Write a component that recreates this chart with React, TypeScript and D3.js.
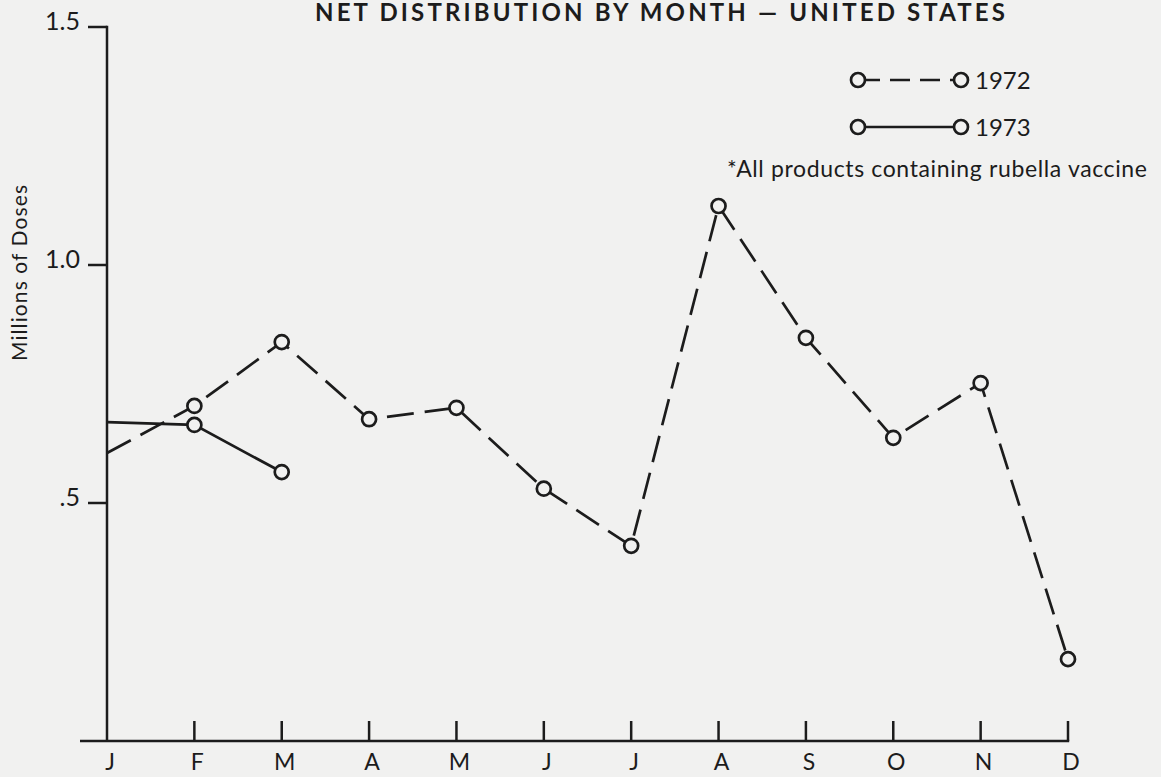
import React from "react";
import * as d3 from "d3";

const months = ["J", "F", "M", "A", "M", "J", "J", "A", "S", "O", "N", "D"];
const values1972 = [0.605, 0.704, 0.838, 0.676, 0.7, 0.53, 0.41, 1.124, 0.847, 0.637, 0.752, 0.172];
const values1973 = [0.67, 0.664, 0.565];
const yTicks = [0.5, 1.0, 1.5];
const yTickLabels = [".5", "1.0", "1.5"];
const title = "NET DISTRIBUTION BY MONTH — UNITED STATES";
const yLabel = "Millions of Doses";
const legendLabels = ["1972", "1973"];
const footnote = "*All products containing rubella vaccine";

const W = 1161;
const H = 777;
const FONT = "Lato, 'Open Sans', sans-serif";
const INK = "#1c1c1c";
const BG = "#f1f1f0";

export default function App() {
  const x = d3.scaleLinear().domain([0, 11]).range([107, 1068]);
  const y = d3.scaleLinear().domain([0, 1.5]).range([741, 27]);
  const line = d3
    .line<number>()
    .x((_, i) => x(i))
    .y((d) => y(d));

  const r = 7;
  const sw = 2.7;

  return (
    <div style={{ position: "fixed", left: 0, top: 0, width: W, height: H, background: BG }}>
      <svg width={W} height={H} style={{ display: "block" }}>
        <rect width={W} height={H} fill={BG} />
        <text
          x={315}
          y={21}
          fontFamily={FONT}
          fontSize={24}
          fontWeight="bold"
          fill={INK}
          textLength={690}
          lengthAdjust="spacing"
        >
          {title}
        </text>
        {/* y axis */}
        <line x1={107} x2={107} y1={y(1.5) - 1.2} y2={741} stroke={INK} strokeWidth={2.5} />
        {yTicks.map((t, i) => (
          <g key={"yt" + i}>
            <line x1={88} x2={107} y1={y(t)} y2={y(t)} stroke={INK} strokeWidth={2.5} />
            <text x={80} y={y(t) + 3} textAnchor="end" fontFamily={FONT} fontSize={25} fill={INK}>
              {yTickLabels[i]}
            </text>
          </g>
        ))}
        <text
          transform={`translate(27,273) rotate(-90)`}
          textAnchor="middle"
          fontFamily={FONT}
          fontSize={21}
          fill={INK}
          textLength={176}
          lengthAdjust="spacing"
        >
          {yLabel}
        </text>
        {/* x axis */}
        <line x1={80} x2={x(11) + 1.2} y1={741} y2={741} stroke={INK} strokeWidth={2.5} />
        {months.map((m, i) => (
          <g key={"xt" + i}>
            {i > 0 && <line x1={x(i)} x2={x(i)} y1={721} y2={741} stroke={INK} strokeWidth={2.5} />}
            <text x={x(i) + 3} y={770} textAnchor="middle" fontFamily={FONT} fontSize={23} fill={INK}>
              {m}
            </text>
          </g>
        ))}
        {/* series */}
        <path d={line(values1972) || ""} fill="none" stroke={INK} strokeWidth={sw} strokeDasharray="27 11" />
        <path d={line(values1973) || ""} fill="none" stroke={INK} strokeWidth={sw} />
        {values1972.map((v, i) =>
          i === 0 ? null : (
            <circle key={"c72" + i} cx={x(i)} cy={y(v)} r={r} fill={BG} stroke={INK} strokeWidth={sw} />
          )
        )}
        {values1973.map((v, i) =>
          i === 0 ? null : (
            <circle key={"c73" + i} cx={x(i)} cy={y(v)} r={r} fill={BG} stroke={INK} strokeWidth={sw} />
          )
        )}
        {/* legend */}
        <line x1={858} x2={961} y1={80} y2={80} stroke={INK} strokeWidth={sw} strokeDasharray="20 10" strokeDashoffset={-2} />
        <circle cx={858} cy={80} r={r} fill={BG} stroke={INK} strokeWidth={sw} />
        <circle cx={961} cy={80} r={r} fill={BG} stroke={INK} strokeWidth={sw} />
        <text x={975} y={89} fontFamily={FONT} fontSize={24} fill={INK}>{legendLabels[0]}</text>
        <line x1={858} x2={961} y1={127} y2={127} stroke={INK} strokeWidth={sw} />
        <circle cx={858} cy={127} r={r} fill={BG} stroke={INK} strokeWidth={sw} />
        <circle cx={961} cy={127} r={r} fill={BG} stroke={INK} strokeWidth={sw} />
        <text x={975} y={136} fontFamily={FONT} fontSize={24} fill={INK}>{legendLabels[1]}</text>
        <text x={727} y={177} fontFamily={FONT} fontSize={23} fill={INK} textLength={420} lengthAdjust="spacing">
          {footnote}
        </text>
      </svg>
    </div>
  );
}
